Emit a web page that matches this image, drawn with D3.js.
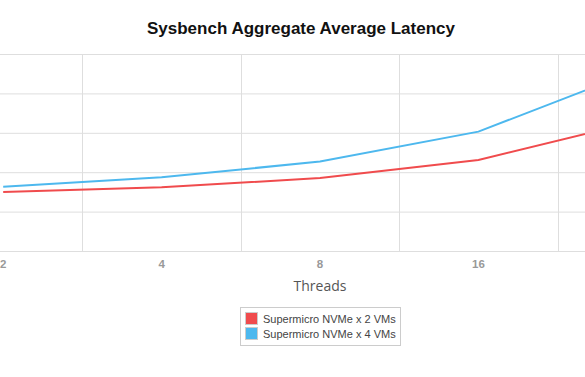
<!DOCTYPE html>
<html>
<head>
<meta charset="utf-8">
<script src="https://cdn.jsdelivr.net/npm/d3@7"></script>
<style>
  body { margin: 0; background: #fff; overflow: hidden; }
  svg { display: block; }
</style>
</head>
<body>
<svg id="chart" width="585" height="377"></svg>
<script>
// thread counts on the x axis
var threads = ["2", "4", "8", "16", "32"];
// average latency, one array per setup
var nvme2vm = [15.0, 16.2, 18.5, 23.1, 32.9];
var nvme4vm = [16.3, 18.7, 22.7, 30.3, 45.8];
var yTicks = [0, 10, 20, 30, 40, 50];

var seriesNames = ["Supermicro NVMe x 2 VMs", "Supermicro NVMe x 4 VMs"];
var seriesColors = ["#f04b4d", "#4db8ee"];
var seriesData = [nvme2vm, nvme4vm];

var svg = d3.select("#chart");

// plot area is wider than the window, the left and right ends are cut off
var x = d3.scaleBand().domain(threads).range([-76, 716]);
var y = d3.scaleLinear().domain([0, 50]).range([251, 54]);

var grid = svg.append("g");

// horizontal grid
grid.selectAll("line.h")
    .data(yTicks)
    .enter()
    .append("line")
    .attr("class", "h")
    .attr("x1", x.range()[0])
    .attr("x2", x.range()[1])
    .attr("y1", function (d) { return y(d) + 0.5; })
    .attr("y2", function (d) { return y(d) + 0.5; })
    .attr("stroke", "#dedede")
    .attr("stroke-width", 1);

// vertical grid sits on the band edges
var edges = threads.map(function (t) { return x(t); }).concat([x.range()[1]]);
grid.selectAll("line.v")
    .data(edges)
    .enter()
    .append("line")
    .attr("class", "v")
    .attr("x1", function (d) { return Math.round(d) + 0.5; })
    .attr("x2", function (d) { return Math.round(d) + 0.5; })
    .attr("y1", y(50))
    .attr("y2", y(0))
    .attr("stroke", "#dedede")
    .attr("stroke-width", 1);

// x tick labels (the 32 label falls outside the window, so leave it out)
var xAxis = d3.axisBottom(x)
    .tickValues(threads.slice(0, 4))
    .tickSize(0)
    .tickPadding(9);
var gx = svg.append("g")
    .attr("transform", "translate(0," + y(0) + ")")
    .call(xAxis);
gx.select(".domain").remove();
gx.selectAll("text")
    .attr("fill", "#999")
    .style("font-family", "Liberation Sans, Arial, sans-serif")
    .style("font-size", "11.5px")
    .style("font-weight", "bold");

// lines
var line = d3.line()
    .x(function (d, i) { return x(threads[i]) + x.bandwidth() / 2; })
    .y(function (d) { return y(d); });

svg.selectAll("path.series")
    .data(seriesData)
    .enter()
    .append("path")
    .attr("class", "series")
    .attr("fill", "none")
    .attr("stroke", function (d, i) { return seriesColors[i]; })
    .attr("stroke-width", 2)
    .attr("d", line);

// title
svg.append("text")
    .attr("x", 301)
    .attr("y", 34)
    .attr("text-anchor", "middle")
    .style("font-family", "Liberation Sans, Arial, sans-serif")
    .style("font-size", "17px")
    .style("font-weight", "bold")
    .attr("fill", "#111")
    .text("Sysbench Aggregate Average Latency");

// axis title
svg.append("text")
    .attr("x", 320)
    .attr("y", 291)
    .attr("text-anchor", "middle")
    .style("font-family", "Open Sans, DejaVu Sans, sans-serif")
    .style("font-size", "14px")
    .attr("fill", "#555")
    .text("Threads");

// legend
var legend = svg.append("g").attr("transform", "translate(240,307)");
legend.append("rect")
    .attr("x", 0.5)
    .attr("y", 0.5)
    .attr("width", 160)
    .attr("height", 38)
    .attr("fill", "#fff")
    .attr("stroke", "#ccc");

var items = legend.selectAll("g.item")
    .data(seriesNames)
    .enter()
    .append("g")
    .attr("class", "item")
    .attr("transform", function (d, i) { return "translate(5," + (5 + i * 15) + ")"; });

items.append("rect")
    .attr("x", 0.5)
    .attr("y", 0.5)
    .attr("width", 12)
    .attr("height", 12)
    .attr("fill", function (d, i) { return seriesColors[i]; })
    .attr("stroke", "#ccc");

items.append("text")
    .attr("x", 18)
    .attr("y", 10.5)
    .style("font-family", "Liberation Sans, Arial, sans-serif")
    .style("font-size", "11px")
    .attr("fill", "#444")
    .text(function (d) { return d; });
</script>
</body>
</html>
